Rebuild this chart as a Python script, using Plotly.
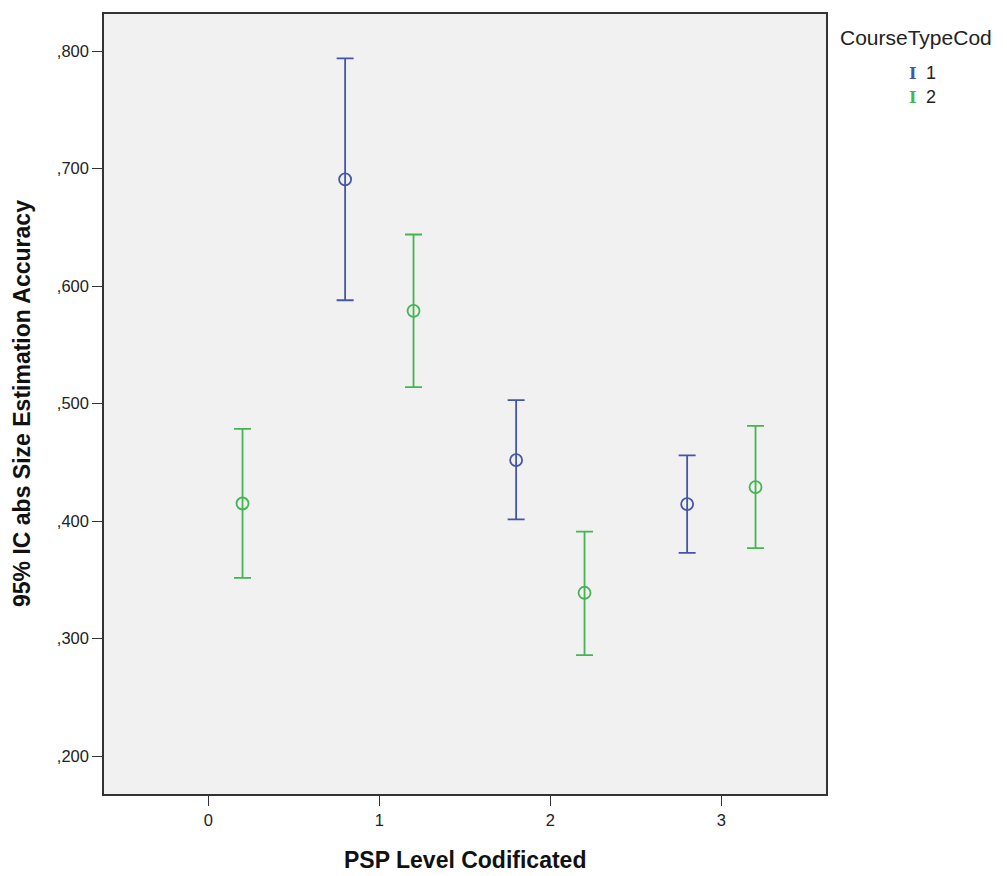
import plotly.graph_objects as go

# Data
levels_1 = [1, 2, 3]
mean_1 = [0.691, 0.452, 0.4145]
upper_1 = [0.794, 0.503, 0.456]
lower_1 = [0.588, 0.4015, 0.373]

levels_2 = [0, 1, 2, 3]
mean_2 = [0.415, 0.579, 0.339, 0.429]
upper_2 = [0.4785, 0.644, 0.391, 0.481]
lower_2 = [0.3517, 0.514, 0.286, 0.377]

y_ticks = [0.2, 0.3, 0.4, 0.5, 0.6, 0.7, 0.8]
y_tick_labels = [",200", ",300", ",400", ",500", ",600", ",700", ",800"]
x_ticks = [0, 1, 2, 3]

BLUE = "#4456A8"
GREEN = "#44B552"
OFFSET = 0.2

fig = go.Figure()

def add_series(levels, mean, upper, lower, color, offset, name):
    fig.add_trace(go.Scatter(
        x=[l + offset for l in levels],
        y=mean,
        mode="markers",
        name=name,
        marker=dict(symbol="circle-open", size=12, color=color, line=dict(width=1.8, color=color)),
        error_y=dict(
            type="data", symmetric=False,
            array=[u - m for u, m in zip(upper, mean)],
            arrayminus=[m - l for m, l in zip(mean, lower)],
            color=color, thickness=1.8, width=8.5,
        ),
        showlegend=False,
    ))

add_series(levels_1, mean_1, upper_1, lower_1, BLUE, -OFFSET, "1")
add_series(levels_2, mean_2, upper_2, lower_2, GREEN, OFFSET, "2")

font_family = "Liberation Sans, Arial, sans-serif"

fig.update_layout(
    width=1007, height=876,
    margin=dict(l=104, r=181, t=12, b=82),
    paper_bgcolor="white",
    plot_bgcolor="#F0F1F0",
    font=dict(family=font_family, size=16, color="#222"),
    xaxis=dict(
        range=[-0.61, 3.612], tickvals=x_ticks, ticktext=[str(v) for v in x_ticks],
        showgrid=False, zeroline=False, showline=True, mirror=True,
        linecolor="#333", linewidth=1.5, ticks="outside", ticklen=10, tickcolor="#333",
        tickfont=dict(size=16.5, color="#222"),
    ),
    yaxis=dict(
        range=[0.1677, 0.8317], tickvals=y_ticks, ticktext=y_tick_labels,
        showgrid=False, zeroline=False, showline=True, mirror=True,
        linecolor="#333", linewidth=1.5, ticks="outside", ticklen=10, tickcolor="#333",
        tickfont=dict(size=16.5, color="#222"),
    ),
)

# Axis titles
fig.add_annotation(xref="paper", yref="paper", x=0.5, y=0, yshift=-66,
                   xanchor="center", yanchor="middle", showarrow=False,
                   text="<b>PSP Level Codificated</b>", font=dict(size=23, color="#111"))
fig.add_annotation(xref="paper", yref="paper", x=0, y=0.5, xshift=-82,
                   xanchor="center", yanchor="middle", showarrow=False, textangle=-90,
                   text="<b>95% IC abs Size Estimation Accuracy</b>", font=dict(size=23, color="#111"))

# Legend built with annotations
fig.add_annotation(xref="paper", yref="paper", x=1.0, y=1.0, xshift=12, yshift=-23,
                   xanchor="left", yanchor="middle", showarrow=False,
                   text="CourseTypeCod", font=dict(size=21, color="#222"))
legend_items = [("1", BLUE), ("2", GREEN)]
for i, (lab, col) in enumerate(legend_items):
    fig.add_annotation(xref="paper", yref="paper", x=1.0, y=1.0, xshift=86, yshift=-59 - 24 * i,
                       xanchor="center", yanchor="middle", showarrow=False,
                       text="<b>I</b>", font=dict(size=16, color=col, family="DejaVu Serif"))
    fig.add_annotation(xref="paper", yref="paper", x=1.0, y=1.0, xshift=98, yshift=-59 - 24 * i,
                       xanchor="left", yanchor="middle", showarrow=False,
                       text=lab, font=dict(size=18, color="#222"))

fig.write_html("out.html")
